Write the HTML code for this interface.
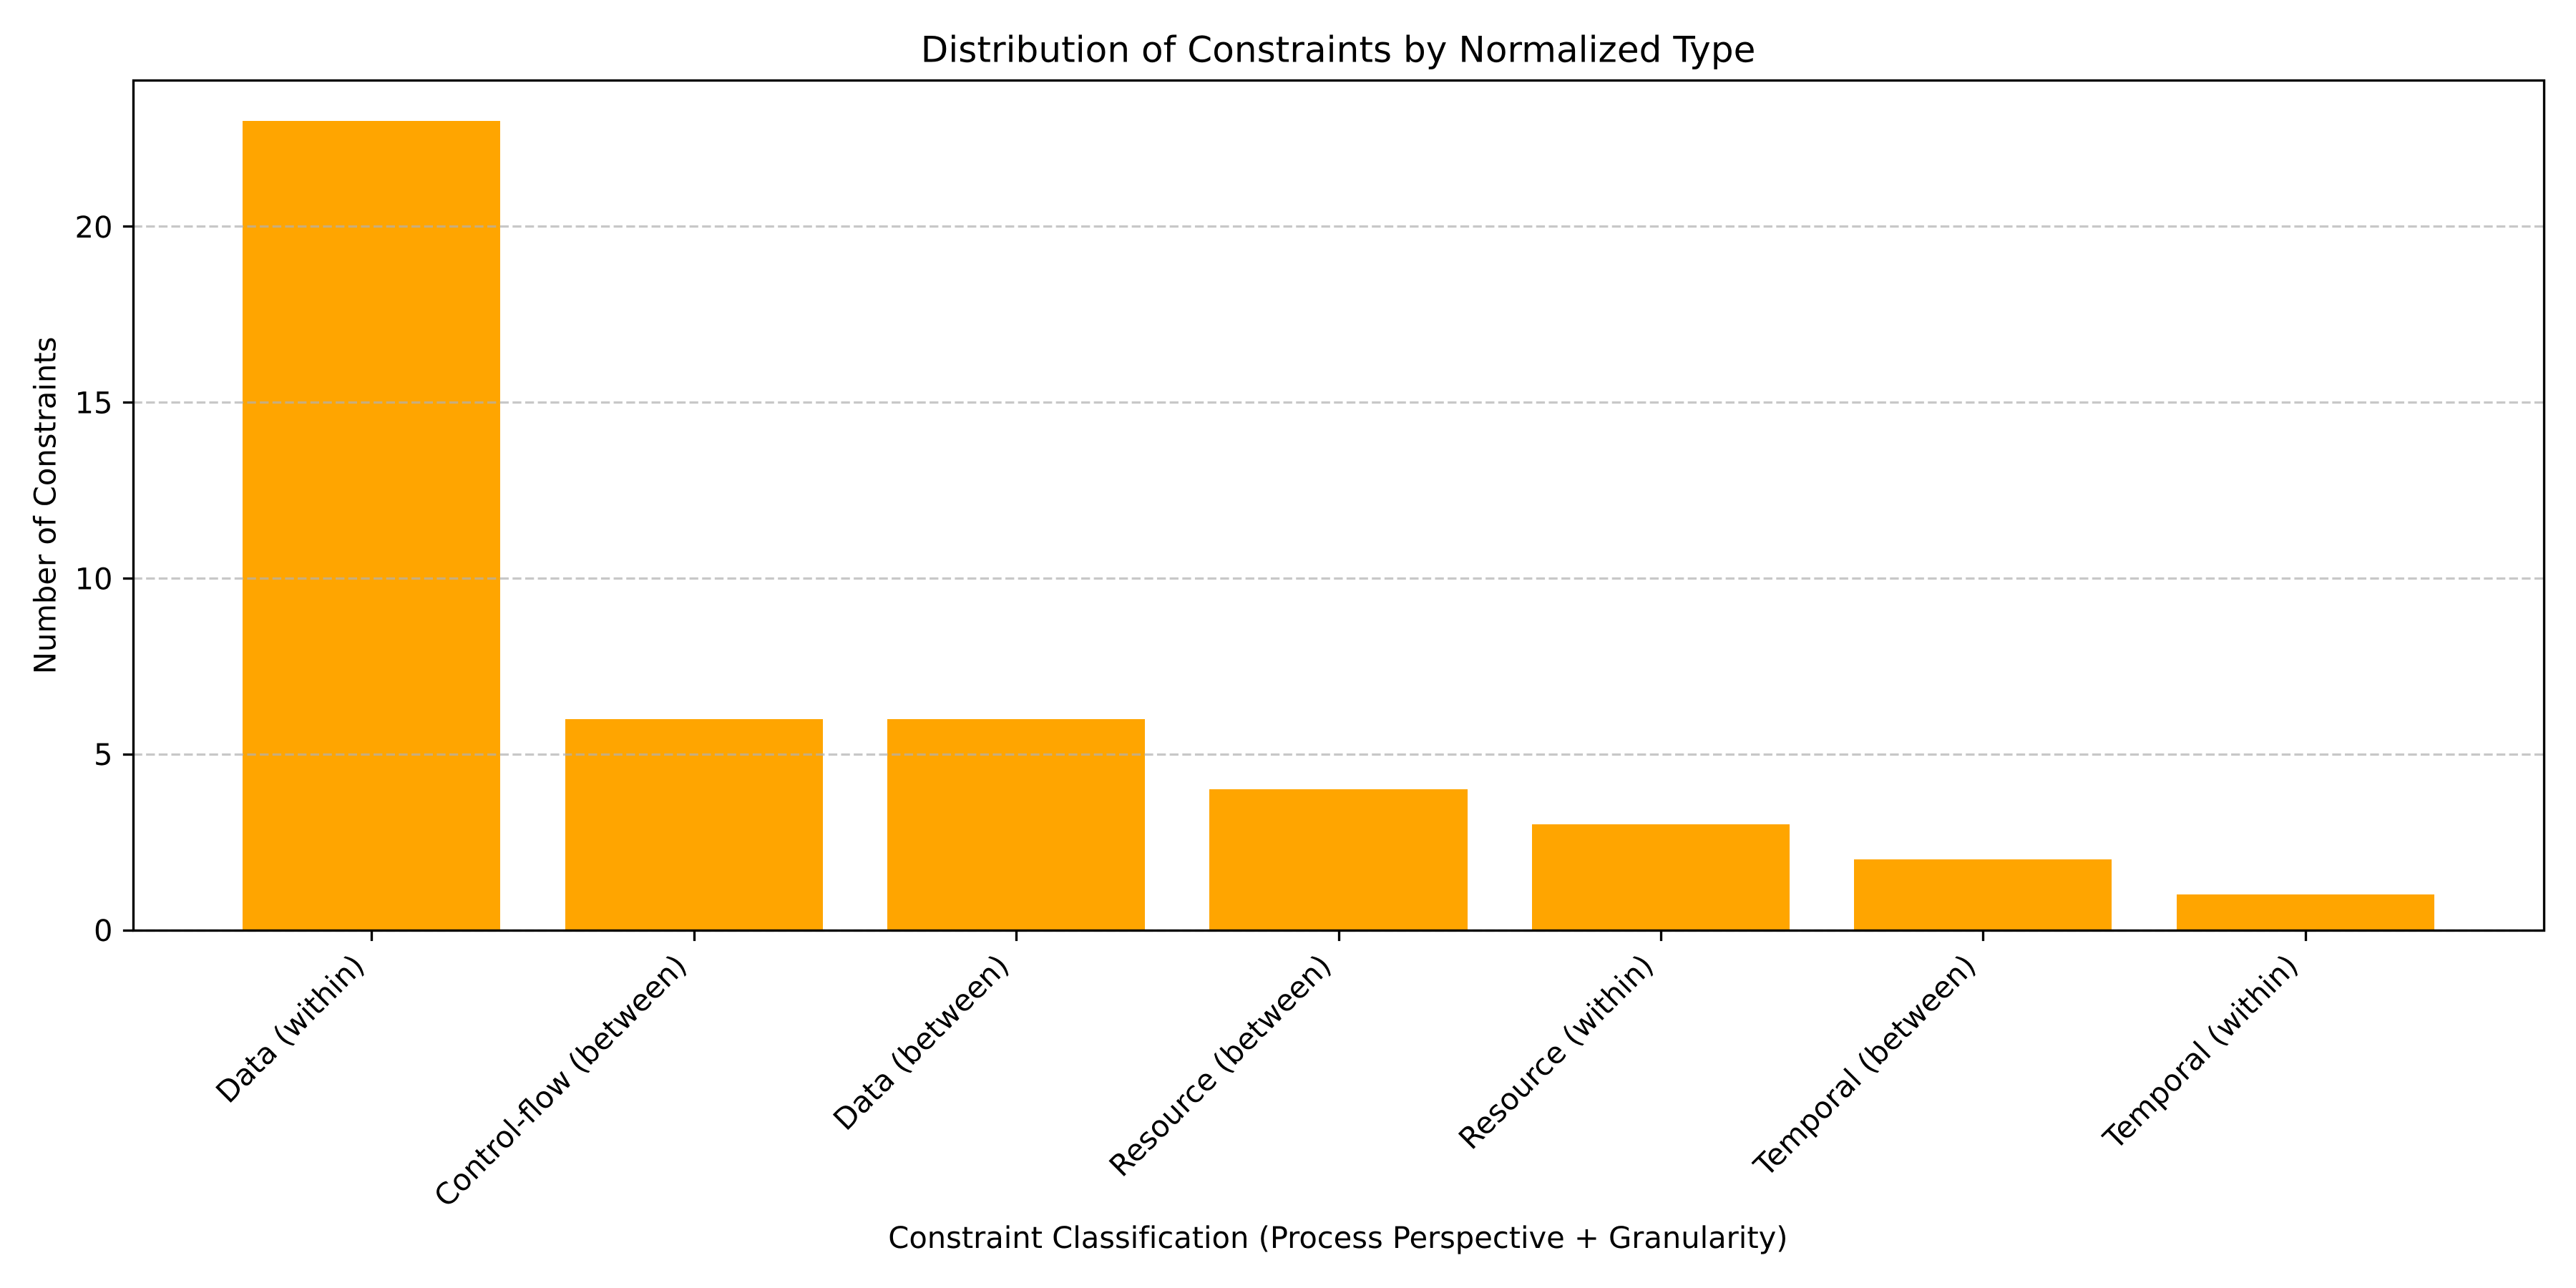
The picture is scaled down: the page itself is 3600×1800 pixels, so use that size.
<!DOCTYPE html>
<html lang="en">
<head>
<meta charset="utf-8">
<title>Distribution of Constraints by Normalized Type</title>
<style>
html,body{margin:0;padding:0;background:#fff;width:3600px;height:1800px;overflow:hidden}
svg{display:block}
text{font-family:"DejaVu Sans","Liberation Sans",sans-serif;fill:#000;text-rendering:geometricPrecision}
</style>
</head>
<body>
<svg id="chart" xmlns="http://www.w3.org/2000/svg" width="3600" height="1800" viewBox="0 0 3600 1800"></svg>
<script>
const categories = ["Data (within)", "Control-flow (between)", "Data (between)", "Resource (between)", "Resource (within)", "Temporal (between)", "Temporal (within)"];
const seriesValues = [23, 6, 6, 4, 3, 2, 1];
const yTickValues = [0, 5, 10, 15, 20];
const chartTitle = "Distribution of Constraints by Normalized Type";
const xAxisTitle = "Constraint Classification (Process Perspective + Granularity)";
const yAxisTitle = "Number of Constraints";

const NS = "http://www.w3.org/2000/svg";
const svg = document.getElementById("chart");
const plotLeft = 186, plotRight = 3555, plotTop = 112.4, plotBottom = 1299.6;
const barWidthUnits = 0.8;
const tickLen = 14.6, spineW = 3.33;

const maxValue = Math.max(...seriesValues);
const yMax = maxValue * 1.05;
const xMinU = -barWidthUnits / 2 - 0.05 * (categories.length - 1 + barWidthUnits);
const xMaxU = categories.length - 1 + barWidthUnits / 2 + 0.05 * (categories.length - 1 + barWidthUnits);
function xScale(i) { return plotLeft + (i - xMinU) / (xMaxU - xMinU) * (plotRight - plotLeft); }
function yScale(v) { return plotBottom - v / yMax * (plotBottom - plotTop); }
function snap(v) { return Math.floor(v + 0.5) + 0.5; }

function make(tag, attrs, parent) {
  const el = document.createElementNS(NS, tag);
  for (const k in attrs) el.setAttribute(k, attrs[k]);
  parent.appendChild(el);
  return el;
}

const bg = make("rect", {x: 0, y: 0, width: 3600, height: 1800, fill: "#fff"}, svg);



const baseY = Math.round(yScale(0));
seriesValues.forEach(function (v, i) {
  const x0 = Math.round(xScale(i - barWidthUnits / 2)), x1 = Math.round(xScale(i + barWidthUnits / 2));
  const top = Math.round(yScale(v));
  const bar = make("rect", {x: x0, y: top, width: x1 - x0, height: baseY - top, fill: "#ffa500"}, svg);
  
  
});

yTickValues.forEach(function (t) {
  const y = snap(yScale(t));
  const grid = make("line", {x1: snap(plotLeft), x2: snap(plotRight), y1: y, y2: y, stroke: "#b0b0b0", "stroke-opacity": 0.7, "stroke-width": 3.33, "stroke-dasharray": "12.33 5.33"}, svg);
  
  
  const tick = make("line", {x1: snap(plotLeft) - tickLen, x2: snap(plotLeft), y1: y, y2: y, stroke: "#000", "stroke-width": spineW}, svg);
  
  
  const label = make("text", {x: plotLeft - 28.5, y: yScale(t) + 15.4, "text-anchor": "end", "font-size": 41.67}, svg);
  label.textContent = String(t);
  
  
});

categories.forEach(function (c, i) {
  const x = snap(xScale(i));
  const tick = make("line", {x1: x, x2: x, y1: snap(plotBottom), y2: snap(plotBottom) + tickLen, stroke: "#000", "stroke-width": spineW}, svg);
  
  
  const bx = xScale(i) - 7.7, by = 1351.9;
  const label = make("text", {x: bx, y: by, "text-anchor": "end", "font-size": 41.67, transform: "rotate(-45 " + bx + " " + by + ")"}, svg);
  label.textContent = c;
  
  
});

const frameL = snap(plotLeft), frameR = snap(plotRight), frameT = snap(plotTop), frameB = snap(plotBottom);
const spines = make("rect", {x: frameL, y: frameT, width: frameR - frameL, height: frameB - frameT, fill: "none", stroke: "#000", "stroke-width": spineW}, svg);



const titleEl = make("text", {x: (plotLeft + plotRight) / 2 - 0.4, y: 86.7, "text-anchor": "middle", "font-size": 50, "letter-spacing": 0.05}, svg);
titleEl.textContent = chartTitle;



const xTitleEl = make("text", {x: (plotLeft + plotRight) / 2 - 0.6, y: 1744, "text-anchor": "middle", "font-size": 41.67, "letter-spacing": -0.03}, svg);
xTitleEl.textContent = xAxisTitle;



const yMid = (plotTop + plotBottom) / 2 + 0.4;
const yTitleEl = make("text", {x: 77.3, y: yMid, "text-anchor": "middle", "font-size": 41.67, transform: "rotate(-90 77.3 " + yMid + ")"}, svg);
yTitleEl.textContent = yAxisTitle;


</script>
</body>
</html>
